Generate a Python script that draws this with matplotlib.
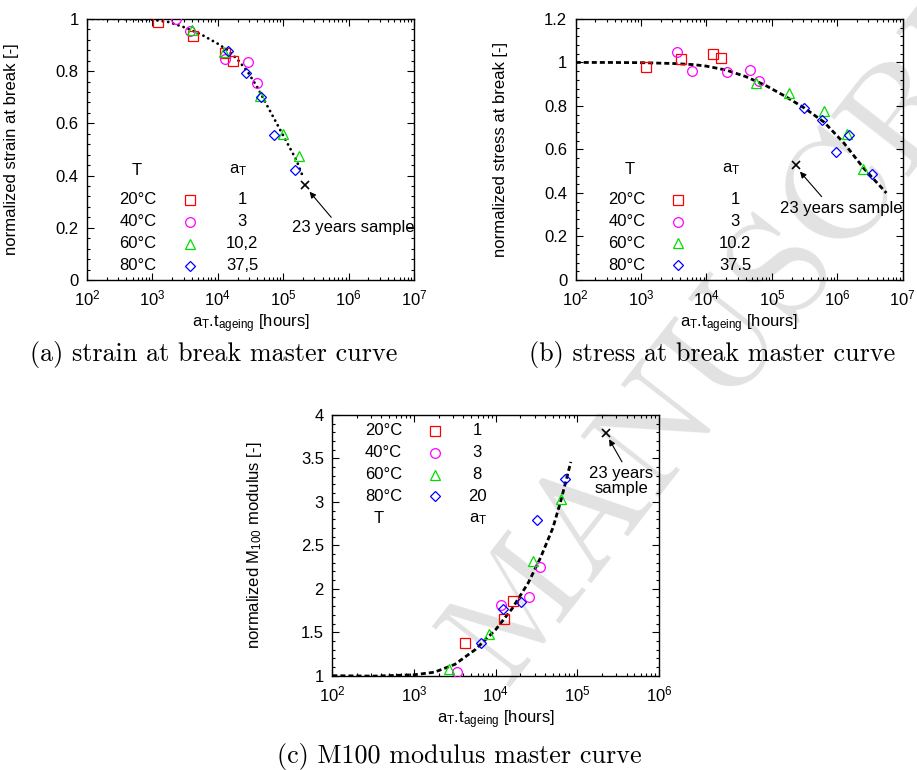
import numpy as np
import matplotlib
matplotlib.use('Agg')
import matplotlib.pyplot as plt
from matplotlib.ticker import LogLocator, MultipleLocator, FuncFormatter, NullFormatter

plt.rcParams['font.family'] = 'Liberation Sans'
plt.rcParams['mathtext.fontset'] = 'custom'
plt.rcParams['mathtext.rm'] = 'Liberation Sans'
plt.rcParams['mathtext.it'] = 'Liberation Sans:italic'
plt.rcParams['font.size'] = 12

# ---- data (a) strain at break ----
a_t20 = [1.22e3, 4.17e3, 1.27e4, 1.68e4]
a_y20 = [0.99, 0.935, 0.871, 0.839]
a_t40 = [2.29e3, 3.7e3, 1.27e4, 2.85e4, 3.96e4]
a_y40 = [1.0, 0.954, 0.847, 0.834, 0.756]
a_t60 = [4.03e3, 1.23e4, 4.46e4, 9.77e4, 1.76e5]
a_y60 = [0.958, 0.873, 0.704, 0.559, 0.474]
a_t80 = [1.43e4, 2.69e4, 4.57e4, 7.13e4, 1.53e5]
a_y80 = [0.879, 0.792, 0.701, 0.556, 0.42]
a_sample = (2.15e5, 0.363)
a_curve_logt = [2.0, 2.5, 3.0, 3.25, 3.5, 3.75, 4.0, 4.15, 4.3, 4.45, 4.6, 4.75, 4.9, 5.05, 5.2, 5.31]
a_curve_y = [1.0, 1.0, 0.997, 0.988, 0.967, 0.94, 0.905, 0.88, 0.845, 0.80, 0.74, 0.67, 0.60, 0.53, 0.46, 0.39]
a_shift = ['1', '3', '10,2', '37,5']

# ---- data (b) stress at break ----
b_t20 = [1.19e3, 4.13e3, 1.27e4, 1.67e4]
b_y20 = [0.978, 1.015, 1.041, 1.019]
b_t40 = [3.59e3, 6.08e3, 2.08e4, 4.63e4, 6.43e4]
b_y40 = [1.048, 0.959, 0.956, 0.964, 0.913]
b_t60 = [5.78e4, 1.81e5, 6.27e5, 1.39e6, 2.5e6]
b_y60 = [0.905, 0.858, 0.777, 0.671, 0.512]
b_t80 = [3.1e5, 5.84e5, 9.68e5, 1.51e6, 3.4e6]
b_y80 = [0.791, 0.736, 0.587, 0.668, 0.487]
b_sample = (2.34e5, 0.527)
b_curve_logt = [2.0, 2.5, 3.0, 3.5, 3.8, 4.0, 4.3, 4.6, 4.9, 5.2, 5.5, 5.8, 6.1, 6.4, 6.75]
b_curve_y = [1.0, 1.0, 0.999, 0.995, 0.99, 0.983, 0.965, 0.935, 0.895, 0.845, 0.79, 0.725, 0.63, 0.515, 0.40]
b_shift = ['1', '3', '10.2', '37.5']

# ---- data (c) M100 modulus ----
c_t20 = [4.17e3, 1.25e4, 1.63e4]
c_y20 = [1.38, 1.652, 1.855]
c_t40 = [3.36e3, 1.15e4, 2.58e4, 3.49e4]
c_y40 = [1.046, 1.81, 1.90, 2.247]
c_t60 = [2.71e3, 8.36e3, 2.87e4, 6.31e4]
c_y60 = [1.08, 1.48, 2.32, 3.03]
c_t80 = [6.55e3, 1.24e4, 2.04e4, 3.24e4, 7.0e4]
c_y80 = [1.38, 1.763, 1.85, 2.79, 3.263]
c_sample = (2.22e5, 3.796)
c_curve_logt = [2.0, 2.5, 3.0, 3.25, 3.5, 3.75, 4.0, 4.2, 4.4, 4.55, 4.7, 4.8, 4.92]
c_curve_y = [1.0, 0.995, 1.01, 1.04, 1.13, 1.30, 1.53, 1.77, 2.07, 2.36, 2.70, 3.02, 3.46]
c_shift = ['1', '3', '8', '20']

temps = ['20°C', '40°C', '60°C', '80°C']
marks = [('s', '#ff0000', 7), ('o', '#ff00ff', 7), ('^', '#00dd00', 7), ('D', '#0000ff', 4.8)]

fig = plt.figure(figsize=(9.17, 7.7), dpi=100)

# watermark
fig.text(0.86, 0.655, 'MANUSCRIPT', rotation=52, fontsize=105, family='cmr10',
         color='#e2e2e2', ha='center', va='center', zorder=-5)


def setup(ax, xlim, ylim, major, minor, ylabel):
    ax.set_facecolor('none')
    ax.set_xscale('log')
    ax.set_xlim(*xlim)
    ax.set_ylim(*ylim)
    ax.xaxis.set_major_locator(LogLocator(base=10, numticks=10))
    ax.xaxis.set_minor_locator(LogLocator(base=10, subs=np.arange(2, 10), numticks=20))
    ax.xaxis.set_minor_formatter(NullFormatter())
    ax.yaxis.set_major_locator(MultipleLocator(major))
    ax.yaxis.set_minor_locator(MultipleLocator(minor))
    ax.yaxis.set_major_formatter(FuncFormatter(lambda v, p: '%g' % round(v, 3)))
    ax.tick_params(which='both', direction='in', top=True, right=True, width=0.8)
    ax.tick_params(which='major', length=5, labelsize=12)
    ax.tick_params(which='minor', length=2.5)
    ax.tick_params(axis='y', pad=6)
    ax.tick_params(axis='x', pad=6)
    for s in ax.spines.values():
        s.set_linewidth(1.0)
    ax.set_ylabel(ylabel, fontsize=12)
    ax.yaxis.set_label_coords(-0.208, 0.5)
    ax.set_xlabel(r'a$_{\mathrm{T}}$.t$_{\mathrm{ageing}}$ [hours]', fontsize=12)
    ax.xaxis.set_label_coords(0.5, -0.125)


def points(ax, series):
    for (t, y), (m, c, ms) in zip(series, marks):
        ax.plot(t, y, linestyle='none', marker=m, ms=ms, mfc='none', mec=c, mew=0.9, zorder=4)


def key(ax, shifts, xs, rows, head_y):
    xt, xm, xv, xhT, xha = xs
    for i in range(4):
        m, c, ms = marks[i]
        ax.text(xt, rows[i], temps[i], transform=ax.transAxes, ha='center', va='center')
        ax.plot(xm, rows[i], linestyle='none', marker=m, ms=ms, mfc='none', mec=c, mew=0.9,
                transform=ax.transAxes, clip_on=False)
        ax.text(xv, rows[i], shifts[i], transform=ax.transAxes, ha='center', va='center')
    ax.text(xhT, head_y, 'T', transform=ax.transAxes, ha='center', va='center')
    ax.text(xha, head_y, r'a$_{\mathrm{T}}$', transform=ax.transAxes, ha='center', va='center')


arrow = dict(arrowstyle='-|>', lw=0.8, color='k', mutation_scale=9, shrinkA=0, shrinkB=0)

# (a)
axa = fig.add_axes([0.0949, 0.6364, 0.3566, 0.339])
setup(axa, (1e2, 1e7), (0, 1), 0.2, 0.04, 'normalized strain at break [-]')
axa.plot(10 ** np.array(a_curve_logt), a_curve_y, color='k', lw=2.0,
         linestyle=(0, (0.05, 1.9)), dash_capstyle='round', zorder=3)
points(axa, [(a_t20, a_y20), (a_t40, a_y40), (a_t60, a_y60), (a_t80, a_y80)])
axa.plot(*a_sample, marker='x', color='k', ms=6, mew=1.2, zorder=5)
axa.annotate('', xy=(2.53e5, 0.338), xytext=(5.42e5, 0.24), arrowprops=arrow)
axa.text(1.36e5, 0.2, '23 years sample', ha='left', va='center')
key(axa, a_shift, (0.156, 0.315, 0.475, 0.152, 0.463), [0.307, 0.223, 0.139, 0.055], 0.42)

# (b)
axb = fig.add_axes([0.6278, 0.6364, 0.3566, 0.339])
setup(axb, (1e2, 1e7), (0, 1.2), 0.2, 0.04, 'normalized stress at break [-]')
axb.plot(10 ** np.array(b_curve_logt), b_curve_y, color='k', lw=2.0,
         linestyle=(0, (1.8, 1.1)), zorder=3)
points(axb, [(b_t20, b_y20), (b_t40, b_y40), (b_t60, b_y60), (b_t80, b_y80)])
axb.plot(*b_sample, marker='x', color='k', ms=6, mew=1.2, zorder=5)
axb.annotate('', xy=(2.69e5, 0.498), xytext=(5.77e5, 0.383), arrowprops=arrow)
axb.text(1.33e5, 0.33, '23 years sample', ha='left', va='center')
key(axb, b_shift, (0.156, 0.314, 0.487, 0.164, 0.474), [0.307, 0.223, 0.140, 0.057], 0.424)

# (c)
axc = fig.add_axes([0.3624, 0.1225, 0.3563, 0.3386])
setup(axc, (1e2, 1e6), (1, 4), 0.5, 0.1, r'normalized M$_{100}$ modulus [-]')
axc.plot(10 ** np.array(c_curve_logt), c_curve_y, color='k', lw=2.0,
         linestyle=(0, (1.8, 1.1)), zorder=3)
points(axc, [(c_t20, c_y20), (c_t40, c_y40), (c_t60, c_y60), (c_t80, c_y80)])
axc.plot(*c_sample, marker='x', color='k', ms=6, mew=1.2, zorder=5)
axc.annotate('', xy=(2.45e5, 3.72), xytext=(3.52e5, 3.46), arrowprops=arrow)
axc.text(3.42e5, 3.24, '23 years\nsample', ha='center', va='center', linespacing=0.95)
key(axc, c_shift, (0.157, 0.314, 0.443, 0.141, 0.447), [0.940, 0.855, 0.771, 0.688], 0.601)

# captions
cap = dict(family='cmr10', fontsize=18.8, ha='center', va='center')
fig.text(0.2334, 0.540, '(a) strain at break master curve', **cap)
fig.text(0.7765, 0.540, '(b) stress at break master curve', **cap)
fig.text(0.5005, 0.017, '(c) M100 modulus master curve', **cap)

fig.savefig('out.png', dpi=100)
